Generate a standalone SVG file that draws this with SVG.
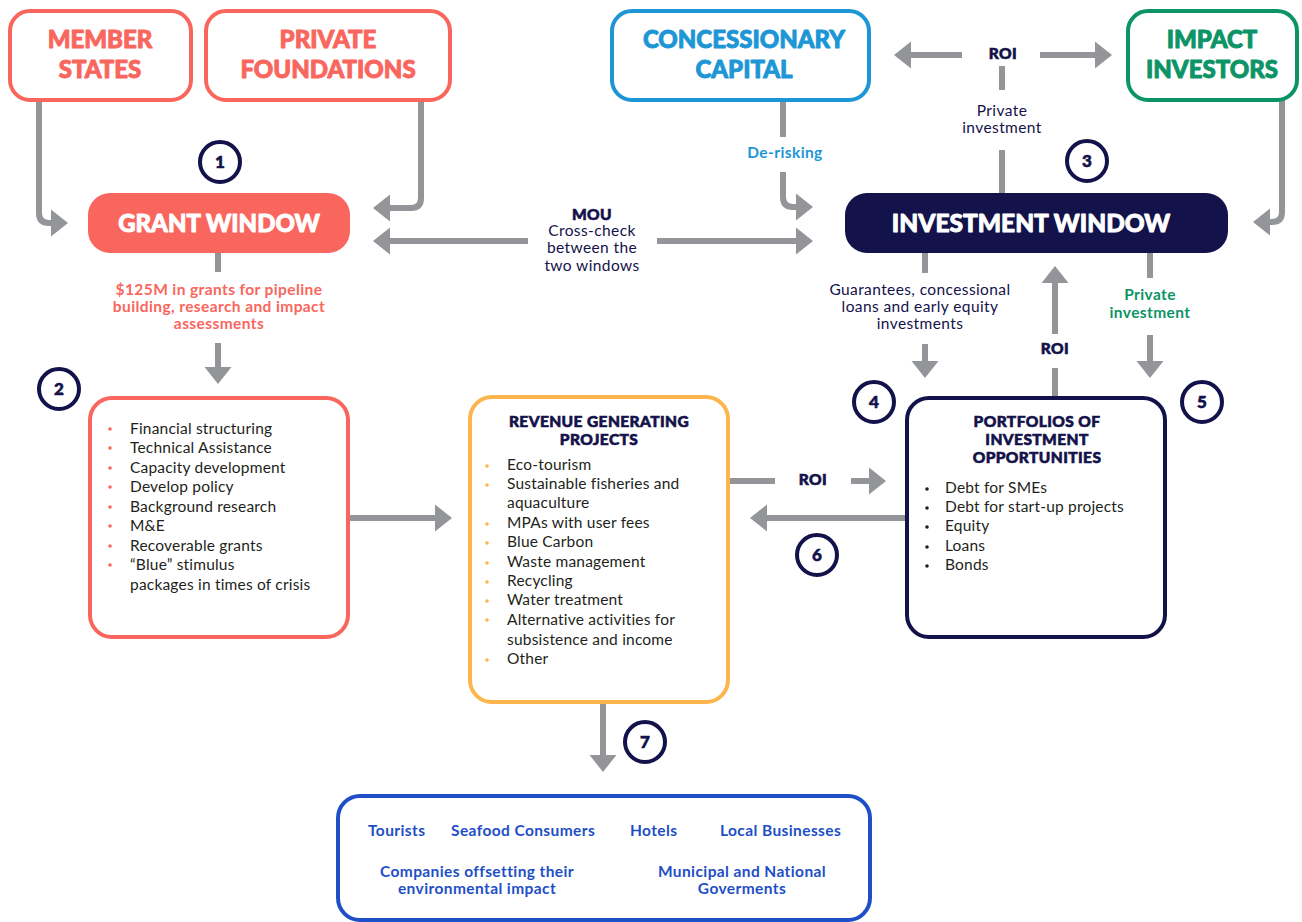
<svg xmlns="http://www.w3.org/2000/svg" width="1302" height="922" viewBox="0 0 1302 922">
<defs>
<marker id="ah" markerUnits="userSpaceOnUse" markerWidth="18" markerHeight="28" refX="1" refY="13.5" orient="auto" viewBox="0 0 18 27"><path d="M0,0 L17,13.5 L0,27 z" fill="#939598"/></marker>
<style>
.box{fill:#fff;stroke-width:4}
.conn{fill:none;stroke:#939598;stroke-width:6}
.hd{font-family:Lato,"Liberation Sans",sans-serif;font-weight:900;text-anchor:middle;stroke-width:0.9;stroke-linejoin:round}
.num{fill:#fff;stroke:#13124a;stroke-width:4}
.numt{font-family:Lato,"Liberation Sans",sans-serif;font-weight:900;font-size:17px;fill:#13124a;stroke:#13124a;stroke-width:0.6;text-anchor:middle}
.lbl{font-family:Lato,"Liberation Sans",sans-serif;font-size:15.5px;letter-spacing:0.4px;text-anchor:middle}
.sb{font-weight:700}
.hv{font-weight:900;stroke:#13124a;stroke-width:0.6}
.body{font-family:Lato,"Liberation Sans",sans-serif;font-size:15.5px;letter-spacing:0.2px;fill:#231f20}
.bh{font-family:Lato,"Liberation Sans",sans-serif;font-weight:900;font-size:15.5px;letter-spacing:0.4px;fill:#13124a;stroke:#13124a;stroke-width:0.6;text-anchor:middle}
.bt{font-family:Lato,"Liberation Sans",sans-serif;font-weight:700;font-size:15.5px;letter-spacing:0.4px;fill:#1e4fc6}
</style>
</defs>
<rect width="1302" height="922" fill="#fff"/>

<g id="connectors">
<path class="conn" d="M39,100 V213 Q39,223 49,223 H52" marker-end="url(#ah)"/>
<path class="conn" d="M421,100 V198 Q421,208 411,208 H389" marker-end="url(#ah)"/>
<path class="conn" d="M528,241 H389" marker-end="url(#ah)"/>
<path class="conn" d="M657,241 H797" marker-end="url(#ah)"/>
<path class="conn" d="M783,100 V137"/>
<path class="conn" d="M783,172 V197 Q783,207 793,207 H797" marker-end="url(#ah)"/>
<path class="conn" d="M962,55 H910" marker-end="url(#ah)"/>
<path class="conn" d="M1040,55 H1096" marker-end="url(#ah)"/>
<path class="conn" d="M1002,66 V90"/>
<path class="conn" d="M1002,150 V193"/>
<path class="conn" d="M1282,100 V212 Q1282,222 1272,222 H1269" marker-end="url(#ah)"/>
<path class="conn" d="M218,253 V272"/>
<path class="conn" d="M218,343 V368" marker-end="url(#ah)"/>
<path class="conn" d="M925,253 V273"/>
<path class="conn" d="M925,344 V362" marker-end="url(#ah)"/>
<path class="conn" d="M1055,397 V368"/>
<path class="conn" d="M1055,334 V282" marker-end="url(#ah)"/>
<path class="conn" d="M1150,253 V278"/>
<path class="conn" d="M1150,335 V362" marker-end="url(#ah)"/>
<path class="conn" d="M350,518 H436" marker-end="url(#ah)"/>
<path class="conn" d="M730,481 H775"/>
<path class="conn" d="M851,481 H870" marker-end="url(#ah)"/>
<path class="conn" d="M906,518 H766" marker-end="url(#ah)"/>
<path class="conn" d="M603,702 V756" marker-end="url(#ah)"/>
</g>

<g id="connector-labels">
<text class="lbl hv" x="1003" y="59" fill="#13124a">ROI</text>
<text class="lbl" x="1002" y="116" fill="#13124a">Private</text>
<text class="lbl" x="1002" y="133" fill="#13124a">investment</text>
<text class="lbl sb" x="785" y="158" fill="#1d96d5">De-risking</text>
<text class="lbl hv" x="592" y="220" fill="#13124a">MOU</text>
<text class="lbl" x="592" y="236" fill="#13124a">Cross-check</text>
<text class="lbl" x="592" y="253" fill="#13124a">between the</text>
<text class="lbl" x="592" y="271" fill="#13124a">two windows</text>
<text class="lbl sb" x="219" y="295" fill="#f9665e">$125M in grants for pipeline</text>
<text class="lbl sb" x="219" y="312" fill="#f9665e">building, research and impact</text>
<text class="lbl sb" x="219" y="329" fill="#f9665e">assessments</text>
<text class="lbl" x="920" y="295" fill="#13124a">Guarantees, concessional</text>
<text class="lbl" x="920" y="312" fill="#13124a">loans and early equity</text>
<text class="lbl" x="920" y="329" fill="#13124a">investments</text>
<text class="lbl hv" x="1055" y="354" fill="#13124a">ROI</text>
<text class="lbl sb" x="1150" y="300" fill="#0c9466">Private</text>
<text class="lbl sb" x="1150" y="318" fill="#0c9466">investment</text>
<text class="lbl hv" x="813" y="485" fill="#13124a">ROI</text>
</g>

<g id="member-states">
<rect class="box" x="10" y="11" width="181" height="89" rx="20" stroke="#f9665e"/>
<text class="hd" x="100" y="48" font-size="24" fill="#f9665e" stroke="#f9665e">MEMBER</text>
<text class="hd" x="100" y="78" font-size="24" fill="#f9665e" stroke="#f9665e">STATES</text>
</g>
<g id="private-foundations">
<rect class="box" x="206" y="11" width="244" height="89" rx="20" stroke="#f9665e"/>
<text class="hd" x="328" y="48" font-size="24" fill="#f9665e" stroke="#f9665e">PRIVATE</text>
<text class="hd" x="328" y="78" font-size="24" fill="#f9665e" stroke="#f9665e">FOUNDATIONS</text>
</g>
<g id="concessionary-capital">
<rect class="box" x="612" y="11" width="257" height="89" rx="20" stroke="#1d96d5"/>
<text class="hd" x="744" y="48" font-size="24" fill="#1d96d5" stroke="#1d96d5">CONCESSIONARY</text>
<text class="hd" x="744" y="78" font-size="24" fill="#1d96d5" stroke="#1d96d5">CAPITAL</text>
</g>
<g id="impact-investors">
<rect class="box" x="1128" y="11" width="169" height="89" rx="20" stroke="#0c9466"/>
<text class="hd" x="1212" y="48" font-size="24" fill="#0c9466" stroke="#0c9466">IMPACT</text>
<text class="hd" x="1212" y="78" font-size="24" fill="#0c9466" stroke="#0c9466">INVESTORS</text>
</g>

<g id="grant-window">
<rect x="88" y="193" width="262" height="60" rx="22" fill="#f9665e"/>
<text class="hd" x="219" y="232" font-size="24" fill="#fff" stroke="#fff">GRANT WINDOW</text>
</g>
<g id="investment-window">
<rect x="845" y="193" width="383" height="60" rx="22" fill="#13124a"/>
<text class="hd" x="1031" y="232" font-size="24.5" fill="#fff" stroke="#fff">INVESTMENT WINDOW</text>
</g>

<g id="step-1"><circle class="num" cx="220" cy="162" r="20"/><text class="numt" x="220" y="168">1</text></g>
<g id="step-2"><circle class="num" cx="59" cy="389" r="20"/><text class="numt" x="59" y="395">2</text></g>
<g id="step-3"><circle class="num" cx="1087" cy="161" r="20"/><text class="numt" x="1087" y="167">3</text></g>
<g id="step-4"><circle class="num" cx="874" cy="402" r="20"/><text class="numt" x="874" y="408">4</text></g>
<g id="step-5"><circle class="num" cx="1202" cy="402" r="20"/><text class="numt" x="1202" y="408">5</text></g>
<g id="step-6"><circle class="num" cx="817" cy="555" r="20"/><text class="numt" x="817" y="561">6</text></g>
<g id="step-7"><circle class="num" cx="645" cy="742" r="20"/><text class="numt" x="645" y="748">7</text></g>

<g id="grant-activities">
<rect class="box" x="90" y="398" width="258" height="239" rx="22" stroke="#f9665e"/>
<g fill="#f9665e">
<circle cx="110" cy="429" r="1.8"/><circle cx="110" cy="448" r="1.8"/><circle cx="110" cy="468" r="1.8"/><circle cx="110" cy="487" r="1.8"/><circle cx="110" cy="507" r="1.8"/><circle cx="110" cy="526" r="1.8"/><circle cx="110" cy="546" r="1.8"/><circle cx="110" cy="565" r="1.8"/>
</g>
<text class="body" x="130" y="434">Financial structuring</text>
<text class="body" x="130" y="453">Technical Assistance</text>
<text class="body" x="130" y="473">Capacity development</text>
<text class="body" x="130" y="492">Develop policy</text>
<text class="body" x="130" y="512">Background research</text>
<text class="body" x="130" y="531">M&amp;E</text>
<text class="body" x="130" y="551">Recoverable grants</text>
<text class="body" x="130" y="570">“Blue” stimulus</text>
<text class="body" x="130" y="590">packages in times of crisis</text>
</g>

<g id="revenue-projects">
<rect class="box" x="470" y="397" width="258" height="305" rx="22" stroke="#fdb64d"/>
<text class="bh" x="599" y="427">REVENUE GENERATING</text>
<text class="bh" x="599" y="445">PROJECTS</text>
<g fill="#fdb64d">
<circle cx="487" cy="466" r="1.8"/><circle cx="487" cy="485" r="1.8"/><circle cx="487" cy="524" r="1.8"/><circle cx="487" cy="543" r="1.8"/><circle cx="487" cy="563" r="1.8"/><circle cx="487" cy="582" r="1.8"/><circle cx="487" cy="601" r="1.8"/><circle cx="487" cy="620" r="1.8"/><circle cx="487" cy="660" r="1.8"/>
</g>
<text class="body" x="507" y="470">Eco-tourism</text>
<text class="body" x="507" y="489">Sustainable fisheries and</text>
<text class="body" x="507" y="508">aquaculture</text>
<text class="body" x="507" y="528">MPAs with user fees</text>
<text class="body" x="507" y="547">Blue Carbon</text>
<text class="body" x="507" y="567">Waste management</text>
<text class="body" x="507" y="586">Recycling</text>
<text class="body" x="507" y="605">Water treatment</text>
<text class="body" x="507" y="625">Alternative activities for</text>
<text class="body" x="507" y="645">subsistence and income</text>
<text class="body" x="507" y="664">Other</text>
</g>

<g id="portfolios">
<rect class="box" x="907" y="398" width="258" height="239" rx="22" stroke="#13124a"/>
<text class="bh" x="1037" y="427">PORTFOLIOS OF</text>
<text class="bh" x="1037" y="445">INVESTMENT</text>
<text class="bh" x="1037" y="463">OPPORTUNITIES</text>
<g fill="#231f20">
<circle cx="927" cy="489" r="1.8"/><circle cx="927" cy="508" r="1.8"/><circle cx="927" cy="527" r="1.8"/><circle cx="927" cy="547" r="1.8"/><circle cx="927" cy="566" r="1.8"/>
</g>
<text class="body" x="945" y="493">Debt for SMEs</text>
<text class="body" x="945" y="512">Debt for start-up projects</text>
<text class="body" x="945" y="531">Equity</text>
<text class="body" x="945" y="551">Loans</text>
<text class="body" x="945" y="570">Bonds</text>
</g>

<g id="beneficiaries">
<rect class="box" x="338" y="796" width="532" height="124" rx="22" stroke="#1e4fc6"/>
<text class="bt" x="368" y="836">Tourists</text>
<text class="bt" x="451" y="836">Seafood Consumers</text>
<text class="bt" x="630" y="836">Hotels</text>
<text class="bt" x="720" y="836">Local Businesses</text>
<text class="bt" x="477" y="877" text-anchor="middle">Companies offsetting their</text>
<text class="bt" x="477" y="894" text-anchor="middle">environmental impact</text>
<text class="bt" x="742" y="877" text-anchor="middle">Municipal and National</text>
<text class="bt" x="742" y="894" text-anchor="middle">Goverments</text>
</g>
</svg>
